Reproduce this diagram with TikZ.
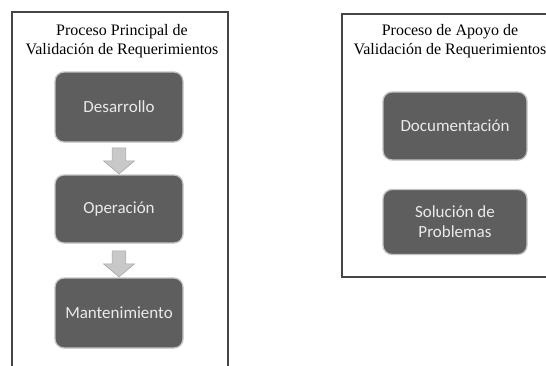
\documentclass[tikz,border=0pt]{standalone}
\usepackage{fontspec}
\setmainfont{Liberation Serif}
\newfontfamily\boxfont{Carlito}
\usetikzlibrary{shapes.arrows}
\definecolor{boxfill}{HTML}{5E5E5E}
\definecolor{boxedge}{HTML}{C4C4C4}
\definecolor{boxtext}{HTML}{EAEAEA}
\definecolor{frameline}{HTML}{454545}
\definecolor{arrowfill}{HTML}{C8C8C8}
\definecolor{arrowedge}{HTML}{A8A8A8}
\tikzset{
  x=1pt, y=-1pt,
  procbox/.style={draw=boxedge, line width=1.3pt, fill=boxfill, rounded corners=9pt,
    minimum width=128pt, text=boxtext, font=\boxfont\fontsize{17}{20}\selectfont,
    align=center, inner sep=0pt},
  frame/.style={draw=frameline, line width=1.2pt},
  titletext/.style={font=\fontsize{16}{19}\selectfont, align=center, inner sep=0pt},
  downarrow/.style={single arrow, shape border rotate=270, draw=arrowedge, fill=arrowfill,
    line width=0.6pt, minimum width=31pt, single arrow head extend=6pt,
    single arrow tip angle=100, minimum height=26pt, inner sep=4.5pt, anchor=center}
}
\begin{document}
\begin{tikzpicture}
\useasboundingbox (0,0) rectangle (546,365);
\fill[white] (0,0) rectangle (546,365);
% left frame (open at bottom)
\draw[frame] (12,366) -- (12,12) -- (228,12) -- (228,366);
\node[titletext] (t1) at (122,41) {Proceso Principal de\\Validación de Requerimientos};
\node[procbox, minimum height=70pt] (d) at (119,107) {Desarrollo};
\node[procbox, minimum height=68pt] (o) at (119,209) {Operación};
\node[procbox, minimum height=70pt] (m) at (119,313) {Mantenimiento};
\node[downarrow] (a1) at (119,158) {};
\node[downarrow] (a2) at (119,261) {};
% right frame (cut at right edge)
\draw[frame] (547,14) -- (342,14) -- (342,277) -- (547,277);
\node[titletext] (t2) at (450,41) {Proceso de Apoyo de\\Validación de Requerimientos};
\node[procbox, minimum width=144pt, minimum height=68pt] (doc) at (455,126) {Documentación};
\node[procbox, minimum width=144pt, minimum height=65pt] (sol) at (455,222) {Solución de\\Problemas};
\end{tikzpicture}
\end{document}
